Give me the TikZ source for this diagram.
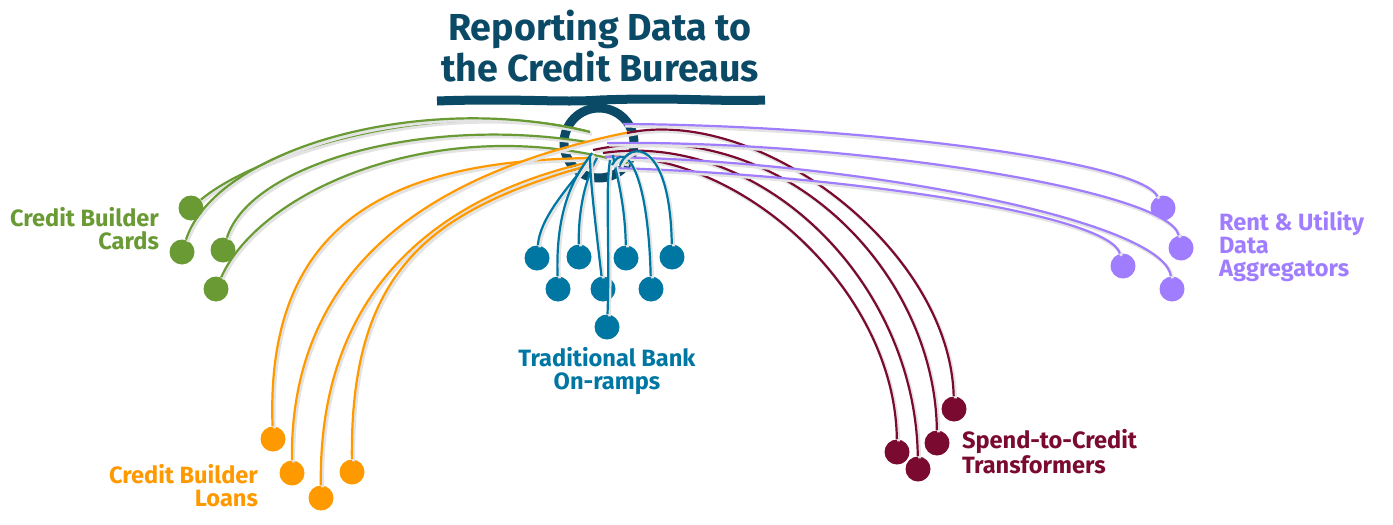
\documentclass[tikz,border=0pt]{standalone}
\usepackage{fontspec}
\setmainfont{Fira Sans}
\usetikzlibrary{positioning}
\definecolor{titleblue}{RGB}{11,74,102}
\definecolor{bankblue}{RGB}{0,118,163}
\definecolor{cardgreen}{RGB}{105,154,52}
\definecolor{loanorange}{RGB}{255,153,0}
\definecolor{spendred}{RGB}{122,10,48}
\definecolor{rentpurple}{RGB}{160,125,255}
\tikzset{
	leaf/.style={circle, fill=#1, minimum size=12.5pt, inner sep=0pt},
	wire/.style={draw=#1, line width=1.1pt,
		preaction={draw=black!11, line width=1.5pt, transform canvas={shift={(0.9pt,-1.1pt)}}}},
	group/.style={text=#1, font=\fontsize{11.8}{11.5}\selectfont\bfseries},
}
\begin{document}
\begin{tikzpicture}[x=0.5pt,y=-0.5pt]
		\useasboundingbox (0,0) rectangle (1393,525);
		\node[text=titleblue, font=\fontsize{18.8}{19}\selectfont\bfseries, align=center] (title) at (600,46) {Reporting Data to\\the Credit Bureaus};
		\draw[titleblue, line width=4.5pt] (437,101) .. controls (520,98) and (560,103) .. (600,100) .. controls (680,97) and (720,102) .. (765,100);
		\draw[titleblue, line width=4.5pt] (599,143) circle[radius=17.5pt];
		% ends at the ring
		\coordinate (cg1) at (590,132); \coordinate (cg2) at (587,142); \coordinate (cg3) at (627,163);
		\coordinate (co1) at (593,158); \coordinate (co2) at (630,132); \coordinate (co3) at (585,163); \coordinate (co4) at (590,165);
		\coordinate (cm1) at (627,133); \coordinate (cm2) at (593,150); \coordinate (cm3) at (603,153); \coordinate (cm4) at (605,157);
		\coordinate (cp1) at (623,124); \coordinate (cp2) at (607,143); \coordinate (cp3) at (605,157); \coordinate (cp4) at (615,168);
		\coordinate (cb1) at (593,155); \coordinate (cb2) at (592,153); \coordinate (cb3) at (597,158); \coordinate (cb4) at (590,156);
		\coordinate (cb5) at (610,160); \coordinate (cb6) at (613,155); \coordinate (cb7) at (612,165); \coordinate (cb8) at (620,165);
		% cards
		\node[leaf=cardgreen] (card1) at (191,208) {};
		\node[leaf=cardgreen] (card2) at (182,252) {};
		\node[leaf=cardgreen] (card3) at (223,250) {};
		\node[leaf=cardgreen] (card4) at (216,289) {};
		\draw[wire=cardgreen] (card1) .. controls (260,150) and (450,95) .. (cg1);
		\draw[wire=cardgreen] (card2) .. controls (215,150) and (420,90) .. (cg1);
		\draw[wire=cardgreen] (card3) .. controls (250,165) and (420,115) .. (cg2);
		\draw[wire=cardgreen] (card4) .. controls (260,190) and (440,110) .. (cg3);
		\node[group=cardgreen, anchor=east, align=right] (cards) at (166,229) {Credit Builder\\Cards};
		% loans
		\node[leaf=loanorange] (loan1) at (273,439) {};
		\node[leaf=loanorange] (loan2) at (292,473) {};
		\node[leaf=loanorange] (loan3) at (321,498) {};
		\node[leaf=loanorange] (loan4) at (352,472) {};
		\draw[wire=loanorange] (loan1) .. controls (265,215) and (400,160) .. (co1);
		\draw[wire=loanorange] (loan2) .. controls (290,260) and (440,170) .. (co2);
		\draw[wire=loanorange] (loan3) .. controls (318,280) and (450,195) .. (co3);
		\draw[wire=loanorange] (loan4) .. controls (350,270) and (430,210) .. (co4);
		\node[group=loanorange, anchor=east, align=right] (loans) at (265,486) {Credit Builder\\Loans};
		% spend
		\node[leaf=spendred] (spend1) at (954,409) {};
		\node[leaf=spendred] (spend2) at (937,443) {};
		\node[leaf=spendred] (spend3) at (918,469) {};
		\node[leaf=spendred] (spend4) at (897,452) {};
		\draw[wire=spendred] (cm1) .. controls (760,105) and (950,250) .. (spend1);
		\draw[wire=spendred] (cm2) .. controls (780,110) and (935,270) .. (spend2);
		\draw[wire=spendred] (cm3) .. controls (760,130) and (915,280) .. (spend3);
		\draw[wire=spendred] (cm4) .. controls (740,150) and (895,290) .. (spend4);
		\node[group=spendred, anchor=west, align=left] (spend) at (955,452) {Spend-to-Credit\\Transformers};
		% rent
		\node[leaf=rentpurple] (rent1) at (1163,208) {};
		\node[leaf=rentpurple] (rent2) at (1181,248) {};
		\node[leaf=rentpurple] (rent3) at (1172,289) {};
		\node[leaf=rentpurple] (rent4) at (1123,266) {};
		\draw[wire=rentpurple] (cp1) .. controls (850,125) and (1140,160) .. (rent1);
		\draw[wire=rentpurple] (cp2) .. controls (850,140) and (1170,190) .. (rent2);
		\draw[wire=rentpurple] (cp3) .. controls (850,160) and (1165,220) .. (rent3);
		\draw[wire=rentpurple] (cp4) .. controls (850,175) and (1110,215) .. (rent4);
		\node[group=rentpurple, anchor=west, align=left] (rent) at (1212,247) {Rent \& Utility\\Data\\Aggregators};
		% bank
		\node[leaf=bankblue] (bank1) at (537,258) {};
		\node[leaf=bankblue] (bank2) at (558,289) {};
		\node[leaf=bankblue] (bank3) at (579,257) {};
		\node[leaf=bankblue] (bank4) at (603,289) {};
		\node[leaf=bankblue] (bank5) at (607,327) {};
		\node[leaf=bankblue] (bank6) at (626,258) {};
		\node[leaf=bankblue] (bank7) at (651,289) {};
		\node[leaf=bankblue] (bank8) at (672,257) {};
		\draw[wire=bankblue] (bank1) .. controls (540,215) and (575,180) .. (cb1);
		\draw[wire=bankblue] (bank2) .. controls (555,200) and (580,170) .. (cb2);
		\draw[wire=bankblue] (bank3) .. controls (578,200) and (590,170) .. (cb3);
		\draw[wire=bankblue] (bank4) .. controls (595,220) and (590,180) .. (cb4);
		\draw[wire=bankblue] (bank5) .. controls (610,250) and (605,190) .. (cb5);
		\draw[wire=bankblue] (bank6) .. controls (625,200) and (615,170) .. (cb6);
		\draw[wire=bankblue] (bank7) .. controls (648,170) and (625,140) .. (cb7);
		\draw[wire=bankblue] (bank8) .. controls (670,140) and (630,140) .. (cb8);
		\node[group=bankblue, align=center, below=0pt of bank5] (bank) {Traditional Bank\\On-ramps};
	\end{tikzpicture}
\end{document}
